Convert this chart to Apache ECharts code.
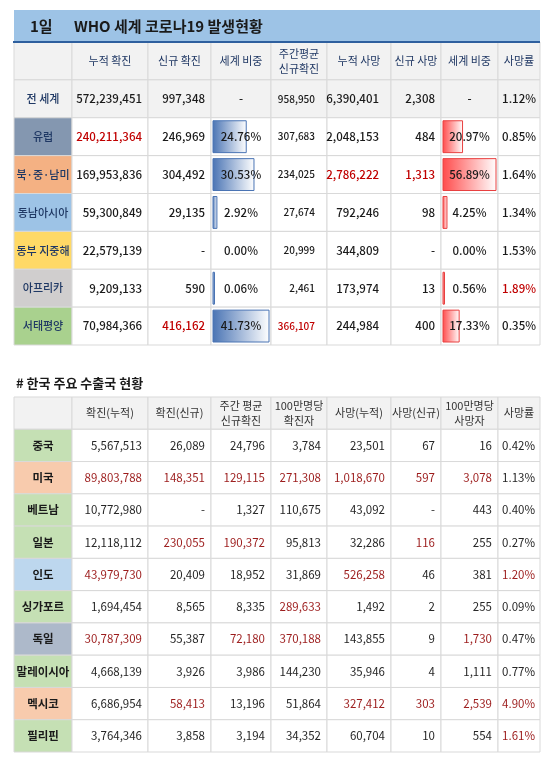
<!DOCTYPE html>
<html><head><meta charset="utf-8">
<script src="https://cdn.jsdelivr.net/npm/echarts@6/dist/echarts.min.js"></script>
<style>html,body{margin:0;padding:0;background:#fff}#c{width:550px;height:762px}</style>
</head><body><div id="c"></div>
<script>
// ---------- Data: table 1 (WHO regions) ----------
const regions = ['전 세계','유럽','북·중·남미','동남아시아','동부 지중해','아프리카','서태평양'];
const t1Headers = ['누적 확진','신규 확진','세계 비중','주간평균\n신규확진','누적 사망','신규 사망','세계 비중','사망률'];
const cumCases = [572239451,240211364,169953836,59300849,22579139,9209133,70984366];
const newCases = [997348,246969,304492,29135,null,590,416162];
const caseShare = [null,24.76,30.53,2.92,0.00,0.06,41.73];
const weeklyCases = [958950,307683,234025,27674,20999,2461,366107];
const cumDeaths = [6390401,2048153,2786222,792246,344809,173974,244984];
const newDeaths = [2308,484,1313,98,null,13,400];
const deathShare = [null,20.97,56.89,4.25,0.00,0.56,17.33];
const fatality = [1.12,0.85,1.64,1.34,1.53,1.89,0.35];
const t1Red = [[1,1],[2,5],[2,6],[6,2],[6,4],[5,8]]; // [region index, column]

// ---------- Data: table 2 (Korea export partners) ----------
const countries = ['중국','미국','베트남','일본','인도','싱가포르','독일','말레이시아','멕시코','필리핀'];
const t2Headers = ['확진(누적)','확진(신규)','주간 평균\n신규확진','100만명당\n확진자','사망(누적)','사망(신규)','100만명당\n사망자','사망률'];
const kCum = [5567513,89803788,10772980,12118112,43979730,1694454,30787309,4668139,6686954,3764346];
const kNew = [26089,148351,null,230055,20409,8565,55387,3926,58413,3858];
const kWeekly = [24796,129115,1327,190372,18952,8335,72180,3986,13196,3194];
const kPerM = [3784,271308,110675,95813,31869,289633,370188,144230,51864,34352];
const kDeaths = [23501,1018670,43092,32286,526258,1492,143855,35946,327412,60704];
const kNewD = [67,597,null,116,46,2,9,4,303,10];
const kPerMD = [16,3078,443,255,381,255,1730,1111,2539,554];
const kFat = [0.42,1.13,0.40,0.27,1.20,0.09,0.47,0.77,4.90,1.61];
const t2Red = [[1,1],[1,2],[1,3],[1,4],[1,5],[1,6],[1,7],[3,2],[3,3],[3,6],[4,1],[4,5],[4,8],[5,4],[6,1],[6,3],[6,4],[6,7],[8,2],[8,5],[8,6],[8,7],[8,8],[9,8]];

// ---------- Layout ----------
const edges = [0,58,134,197,257,313,377,427,484,526];
const regionBg = ['#f2f2f2','#8497b0','#f4b183','#9dc3e6','#ffd966','#d0cece','#a9d18e'];
const countryBg = ['#c5e0b4','#f8cbad','#c5e0b4','#c5e0b4','#bdd7ee','#c5e0b4','#adb9ca','#c5e0b4','#f8cbad','#c5e0b4'];
const FONT = '"Noto Sans CJK KR","Noto Sans",sans-serif';

const fmt = v => v == null ? '-' : v.toLocaleString('en-US');
const pct = v => v == null ? '-' : v.toFixed(2) + '%';

function buildT1(){
  const cells = [];
  cells.push({value:[0,0], text:'', bg:'#f2f2f2'});
  t1Headers.forEach((h,i)=>cells.push({value:[i+1,0], text:h, bg:'#f2f2f2', color:'#203864', align:'center', size:11}));
  const cols = [cumCases,newCases,caseShare,weeklyCases,cumDeaths,newDeaths,deathShare,fatality];
  const maxCS = Math.max(...caseShare.filter(v=>v!=null));
  const maxDS = Math.max(...deathShare.filter(v=>v!=null));
  regions.forEach((r,ri)=>{
    const row = ri+1;
    const rowBg = ri===0 ? '#f2f2f2' : '#fff';
    cells.push({value:[0,row], text:r, bg:regionBg[ri], color:'#1f3864', align:'center', size:11, weight:'500'});
    cols.forEach((arr,ci)=>{
      const col = ci+1; const v = arr[ri];
      const isPct = (col===3||col===7||col===8);
      const red = t1Red.some(p=>p[0]===ri&&p[1]===col);
      const c = {value:[col,row], text: isPct ? pct(v) : fmt(v), bg:rowBg,
        color: red ? '#c00000' : '#1a1a1a', weight:'500',
        size: col===4 ? 10 : 11.5, align:'right', pad:6};
      if (col===3||col===7) c.align='center';
      if (col===4||col===5) c.pad=12;
      if (col===8) c.pad=4;
      if (col===3 && v!=null && v>0) c.bar={frac:v/maxCS, from:'#4a74b4', to:'#ffffff', stroke:'#4a74b4'};
      if (col===7 && v!=null && v>0) c.bar={frac:v/maxDS, from:'#ff4b4b', to:'#ffffff', stroke:'#e84040'};
      cells.push(c);
    });
  });
  return cells;
}
function buildT2(){
  const cells = [];
  cells.push({value:[0,0], text:'', bg:'#f2f2f2'});
  t2Headers.forEach((h,i)=>cells.push({value:[i+1,0], text:h, bg:'#f2f2f2', color:'#333', align:'center', size:11}));
  const cols = [kCum,kNew,kWeekly,kPerM,kDeaths,kNewD,kPerMD,kFat];
  countries.forEach((r,ri)=>{
    const row = ri+1;
    cells.push({value:[0,row], text:r, bg:countryBg[ri], color:'#1a1a1a', align:'center', size:11.5, weight:'bold'});
    cols.forEach((arr,ci)=>{
      const col = ci+1; const v = arr[ri];
      const red = t2Red.some(p=>p[0]===ri&&p[1]===col);
      cells.push({value:[col,row], text: col===8 ? pct(v) : fmt(v), bg:'#fff',
        color: red ? '#9c1c1c' : '#262626', size:11.5, align:'right', pad: col===8?5:6});
    });
  });
  return cells;
}

function renderItem(params, api){
  const d = params.context.cells[params.dataIndex];
  const col = api.value(0), row = api.value(1);
  const x0 = api.coord([edges[col], row])[0];
  const x1 = api.coord([edges[col+1], row])[0];
  const yc = api.coord([0, row])[1];
  const h = api.size([0,1])[1];
  const y0 = yc - h/2;
  const children = [{type:'rect', shape:{x:x0,y:y0,width:x1-x0,height:h}, style:{fill:d.bg, stroke:'#d9d9d9', lineWidth:1}}];
  if (d.bar){
    const w = (x1-x0-4)*d.bar.frac;
    children.push({type:'rect', shape:{x:x0+2,y:y0+3,width:Math.max(w,1.5),height:h-6},
      style:{fill:new echarts.graphic.LinearGradient(0,0,1,0,[{offset:0,color:d.bar.from},{offset:1,color:d.bar.to}]), stroke:d.bar.stroke, lineWidth:1}});
  }
  if (d.text){
    const align = d.align || 'right';
    const tx = align==='center' ? (x0+x1)/2 : align==='left' ? x0+5 : x1-(d.pad||6);
    children.push({type:'text', style:{text:d.text, x:tx, y:yc, align:align, verticalAlign:'middle',
      fill:d.color||'#222', font:(d.weight||'normal')+' '+(d.size||12)+'px '+FONT, lineHeight:(d.size||12)+4}});
  }
  return {type:'group', children};
}

const t1 = buildT1(), t2 = buildT2();
const chart = echarts.init(document.getElementById('c'), null, {renderer:'canvas'});
chart.setOption({
  animation:false,
  grid:[{left:14, width:526, top:42, height:303},{left:14, width:526, top:397, height:355}],
  xAxis:[{type:'value',min:0,max:526,show:false,gridIndex:0},{type:'value',min:0,max:526,show:false,gridIndex:1}],
  yAxis:[{type:'category',data:['h'].concat(regions),inverse:true,show:false,gridIndex:0},
         {type:'category',data:['h'].concat(countries),inverse:true,show:false,gridIndex:1}],
  graphic:[
    {type:'rect', shape:{x:14,y:10,width:526,height:32}, style:{fill:'#9dc3e6'}},
    {type:'line', shape:{x1:13,y1:42,x2:540,y2:42}, style:{stroke:'#2e5f9e',lineWidth:2}, z:10},
    {type:'text', style:{text:'1일', x:30, y:26, verticalAlign:'middle', font:'bold 15px '+FONT, fill:'#1a1a1a'}},
    {type:'text', style:{text:'WHO 세계 코로나19 발생현황', x:74, y:26, verticalAlign:'middle', font:'bold 15px '+FONT, fill:'#1a1a1a'}},
    {type:'text', style:{text:'# 한국 주요 수출국 현황', x:16, y:383, verticalAlign:'middle', font:'bold 13px '+FONT, fill:'#1a1a1a'}}
  ],
  series:[
    {type:'custom', xAxisIndex:0, yAxisIndex:0, data:t1, renderItem:(p,a)=>{p.context.cells=t1;return renderItem(p,a);}},
    {type:'custom', xAxisIndex:1, yAxisIndex:1, data:t2, renderItem:(p,a)=>{p.context.cells=t2;return renderItem(p,a);}}
  ]
});
</script></body></html>
